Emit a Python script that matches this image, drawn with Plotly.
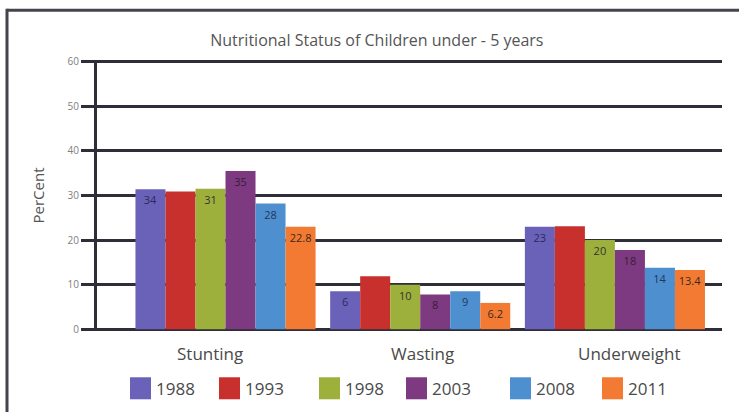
import plotly.graph_objects as go

categories = ["Stunting", "Wasting", "Underweight"]
years = ["1988", "1993", "1998", "2003", "2008", "2011"]

v1988 = [31.4, 8.5, 23.0]
v1993 = [30.9, 11.9, 23.1]
v1998 = [31.5, 10.0, 20.0]
v2003 = [35.5, 7.8, 17.8]
v2008 = [28.2, 8.5, 13.8]
v2011 = [23.0, 5.9, 13.3]

t1988 = ["34", "6", "23"]
t1993 = ["", "", ""]
t1998 = ["31", "10", "20"]
t2003 = ["35", "8", "18"]
t2008 = ["28", "9", "14"]
t2011 = ["22.8", "6.2", "13.4"]

y_ticks = [0, 10, 20, 30, 40, 50, 60]

series_values = [v1988, v1993, v1998, v2003, v2008, v2011]
series_texts = [t1988, t1993, t1998, t2003, t2008, t2011]
colors = ["#6a62b8", "#c8302d", "#9db03c", "#7d3a80", "#4e90cf", "#f27a33"]
text_colors = ["#2a2a5a", "#333333", "#333333", "#3a1a3a", "#24365a", "#3a2a1a"]
cat_label_shift = [-16, 2, 14]

W_PX, H_PX = 739, 412
L, R, T, B = 97, 17, 60.2, 81.2
PW = W_PX - L - R
PH = H_PX - T - B


def px_x(px):
    return (px - L) / PW


def px_y(py):
    return (H_PX - B - py) / PH


fig = go.Figure()
for yr, vals, txt, col, tcol in zip(years, series_values, series_texts, colors, text_colors):
    fig.add_trace(go.Bar(
        name=yr, x=categories, y=vals, text=txt,
        marker=dict(color=col, line=dict(width=0)),
        textposition="inside", insidetextanchor="end",
        textfont=dict(family="Open Sans", size=11, color=tcol),
        textangle=0, constraintext="none",
        showlegend=False, hoverinfo="skip",
    ))

shapes = []
annotations = []

# outer frame (top and left lines)
shapes.append(dict(type="line", xref="paper", yref="paper",
                   x0=px_x(7), x1=px_x(742), y0=px_y(10.5), y1=px_y(10.5),
                   line=dict(color="#44444c", width=3)))
shapes.append(dict(type="line", xref="paper", yref="paper",
                   x0=px_x(7), x1=px_x(7), y0=px_y(9), y1=px_y(415),
                   line=dict(color="#44444c", width=3)))

# category labels
for cat, sh in zip(categories, cat_label_shift):
    annotations.append(dict(xref="x", yref="paper", x=cat, y=px_y(353), xshift=sh,
                            text=cat, showarrow=False, xanchor="center", yanchor="middle",
                            font=dict(family="Open Sans", size=17, color="#4a4a4a")))

# custom legend
leg_sq = [130, 219, 319, 406, 510, 602]
for yr, col, sx in zip(years, colors, leg_sq):
    shapes.append(dict(type="rect", xref="paper", yref="paper",
                       x0=px_x(sx), x1=px_x(sx + 21), y0=px_y(377), y1=px_y(399),
                       fillcolor=col, line=dict(width=0)))
    annotations.append(dict(xref="paper", yref="paper", x=px_x(sx + 24), y=px_y(388),
                            text=yr, showarrow=False, xanchor="left", yanchor="middle",
                            font=dict(family="Open Sans", size=17, color="#4a4a4a")))

fig.update_layout(
    width=W_PX, height=H_PX,
    margin=dict(l=L, r=R, t=T, b=B, pad=0),
    paper_bgcolor="white", plot_bgcolor="white",
    barmode="group", bargap=0.075, bargroupgap=0.0,
    title=dict(text="Nutritional Status of Children under - 5 years",
               x=0.51, xanchor="center", y=1 - 40 / H_PX, yanchor="middle",
               font=dict(family="Open Sans", size=16, color="#555555")),
    xaxis=dict(range=[-0.66, 2.55], showgrid=False, showline=False, ticks="",
               showticklabels=False, fixedrange=True),
    yaxis=dict(range=[-0.4, 60.4], tickvals=y_ticks, showgrid=True,
               gridcolor="#2e2e38", gridwidth=3, zeroline=False,
               showline=True, linecolor="#2e2e38", linewidth=3,
               ticks="outside", ticklen=13, tickwidth=3, tickcolor="#2e2e38",
               tickfont=dict(family="Open Sans", size=10, color="#808080"),
               title=dict(text="PerCent", font=dict(family="Open Sans", size=15, color="#555555"),
                          standoff=20),
               fixedrange=True),
    shapes=shapes, annotations=annotations,
    font=dict(family="Open Sans"),
)

fig.write_html("out.html", config={"displayModeBar": False},
               post_script="document.body.style.margin='0px';document.body.style.padding='0px';")
